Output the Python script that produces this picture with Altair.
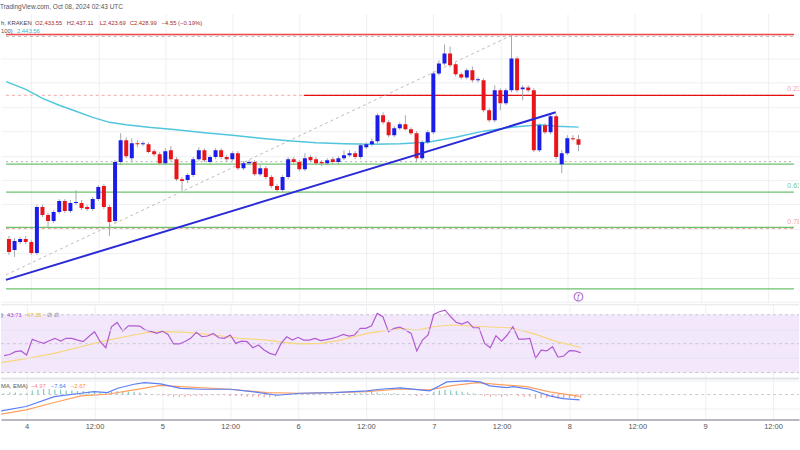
import altair as alt
import pandas as pd

# ---------------- data ----------------
# hourly candles; hour offsets relative to 2024-10-04 00:00 UTC
first_hour = -4
opens = [2351.6, 2342.6, 2349.2, 2351.6, 2349.2, 2340.2, 2377.9, 2371.3, 2366.4, 2373.8,
         2382.8, 2374.6, 2381.1, 2381.1, 2377.9, 2376.2, 2384.4, 2395.1, 2377.9, 2366.4,
         2414.8, 2432.8, 2418.0, 2430.3, 2429.5, 2429.5, 2423.8, 2421.3, 2413.9, 2424.6,
         2417.2, 2400.8, 2400.0, 2404.1, 2417.2, 2424.6, 2414.8, 2418.9, 2424.6, 2418.9,
         2417.2, 2422.1, 2409.8, 2413.9, 2414.8, 2404.9, 2409.8, 2402.5, 2395.1, 2391.8,
         2402.5, 2417.2, 2414.8, 2409.0, 2418.9, 2417.2, 2414.8, 2413.9, 2417.2, 2414.8,
         2418.0, 2420.5, 2422.1, 2418.9, 2427.0, 2429.5, 2432.0, 2453.3, 2447.5, 2436.9,
         2442.6, 2445.9, 2441.8, 2438.5, 2418.0, 2431.1, 2439.3, 2487.7, 2495.9, 2504.1,
         2495.1, 2486.9, 2484.4, 2490.2, 2482.0, 2482.0, 2457.4, 2449.2, 2473.8, 2463.1,
         2473.8, 2500.0, 2474.6, 2476.2, 2473.8, 2424.6, 2445.1, 2439.3, 2452.5, 2413.1,
         2422.1, 2434.4, 2433.55]
highs = [2354.1, 2352.5, 2353.3, 2354.0, 2350.8, 2379.5, 2379.5, 2373.0, 2375.4, 2384.4,
         2384.4, 2383.6, 2391.8, 2383.6, 2379.5, 2386.1, 2395.9, 2396.7, 2379.5, 2416.4,
         2438.5, 2435.2, 2434.4, 2432.8, 2432.0, 2431.1, 2425.4, 2423.0, 2426.2, 2427.9,
         2418.9, 2402.5, 2405.7, 2418.9, 2427.0, 2426.2, 2420.5, 2426.2, 2426.2, 2420.5,
         2423.8, 2423.8, 2415.6, 2416.4, 2416.4, 2412.3, 2411.5, 2404.1, 2396.7, 2404.1,
         2418.9, 2418.9, 2416.4, 2422.1, 2420.5, 2418.9, 2416.4, 2418.0, 2418.9, 2419.7,
         2424.6, 2424.6, 2423.8, 2430.3, 2431.1, 2434.4, 2454.9, 2455.7, 2449.2, 2444.3,
         2447.5, 2453.3, 2443.4, 2440.2, 2432.8, 2441.0, 2489.3, 2498.4, 2511.5, 2509.8,
         2496.7, 2488.5, 2491.8, 2493.4, 2484.4, 2483.6, 2459.0, 2477.9, 2475.4, 2475.4,
         2519.6, 2501.6, 2477.9, 2477.9, 2475.4, 2446.7, 2446.7, 2454.1, 2454.1, 2424.6,
         2436.9, 2436.9, 2437.11]
lows = [2338.5, 2336.9, 2347.5, 2347.5, 2338.5, 2338.5, 2369.7, 2361.5, 2364.8, 2372.1,
        2373.0, 2373.0, 2379.5, 2375.4, 2374.6, 2374.6, 2382.8, 2376.2, 2354.1, 2364.8,
        2413.1, 2418.0, 2414.8, 2427.0, 2427.9, 2422.1, 2419.7, 2412.3, 2412.3, 2415.6,
        2399.2, 2391.0, 2397.5, 2402.5, 2415.6, 2414.8, 2413.1, 2417.2, 2417.2, 2415.6,
        2415.6, 2408.2, 2408.2, 2412.3, 2403.3, 2403.3, 2400.8, 2393.4, 2390.2, 2390.2,
        2400.8, 2413.1, 2407.4, 2407.4, 2414.8, 2412.3, 2411.5, 2412.3, 2413.1, 2413.1,
        2416.4, 2418.9, 2417.2, 2417.2, 2425.4, 2427.9, 2430.3, 2445.9, 2435.2, 2435.2,
        2441.0, 2441.0, 2436.9, 2414.8, 2416.4, 2429.5, 2437.7, 2486.1, 2494.3, 2492.6,
        2485.2, 2482.8, 2482.8, 2480.3, 2480.3, 2455.7, 2447.5, 2447.5, 2457.4, 2461.5,
        2472.1, 2472.1, 2465.6, 2472.1, 2423.0, 2423.0, 2437.7, 2437.7, 2417.2, 2405.7,
        2420.5, 2432.0, 2423.69]
closes = [2341.0, 2350.0, 2351.6, 2349.2, 2340.2, 2377.9, 2371.3, 2366.4, 2373.8, 2382.8,
          2374.6, 2381.1, 2382.0, 2377.0, 2376.2, 2384.4, 2394.3, 2377.9, 2365.6, 2414.8,
          2432.8, 2419.7, 2430.3, 2429.5, 2430.3, 2423.0, 2421.3, 2413.9, 2423.8, 2417.2,
          2400.8, 2399.2, 2404.1, 2417.2, 2424.6, 2416.4, 2418.9, 2424.6, 2418.9, 2417.2,
          2422.1, 2409.8, 2413.9, 2414.8, 2404.9, 2409.8, 2402.5, 2395.1, 2391.8, 2402.5,
          2417.2, 2414.8, 2409.0, 2418.0, 2416.4, 2413.9, 2413.9, 2416.4, 2414.8, 2418.0,
          2420.5, 2422.1, 2418.9, 2428.7, 2429.5, 2432.0, 2453.3, 2447.5, 2436.9, 2442.6,
          2445.9, 2441.8, 2438.5, 2418.0, 2431.1, 2439.3, 2487.7, 2495.9, 2504.1, 2494.3,
          2486.9, 2484.4, 2490.2, 2482.0, 2482.8, 2457.4, 2449.2, 2473.8, 2463.1, 2473.8,
          2500.0, 2473.8, 2476.2, 2473.8, 2424.6, 2445.1, 2439.3, 2452.5, 2418.9, 2422.1,
          2434.4, 2433.6, 2428.99]

sma_hours = [-4.5, -1, 2, 5, 8, 11, 14, 17, 21, 26, 31, 36, 41, 46, 51, 56, 61, 66, 71, 76, 81, 86, 91, 94, 98]
sma_vals = [2481.0, 2474.6, 2467.2, 2461.5, 2456.6, 2451.6, 2447.5, 2445.5, 2443.4, 2441.4,
            2438.9, 2436.9, 2434.4, 2432.4, 2430.7, 2429.9, 2429.5, 2429.9, 2431.1, 2435.2,
            2440.2, 2443.4, 2445.5, 2444.3, 2443.56]

rsi_vals = [41.7, 42.5, 44.5, 45.0, 42.2, 53.0, 51.5, 50.2, 52.0, 53.7,
            51.8, 53.7, 53.7, 52.5, 51.4, 55.0, 58.3, 51.4, 47.2, 61.7,
            64.7, 58.7, 62.4, 62.3, 62.2, 59.4, 58.5, 57.1, 58.7, 56.4,
            49.8, 49.8, 51.5, 53.7, 57.8, 54.8, 55.3, 57.1, 54.1, 53.7,
            56.0, 50.2, 51.8, 51.4, 47.2, 49.1, 45.6, 43.3, 42.2, 50.2,
            54.8, 52.5, 54.4, 52.5, 52.5, 53.7, 52.1, 52.8, 53.7, 54.8,
            56.4, 55.3, 56.0, 60.6, 60.6, 62.4, 70.9, 68.6, 58.3, 60.6,
            61.5, 59.4, 57.1, 45.0, 52.5, 56.0, 70.2, 72.1, 73.2, 68.6,
            64.7, 63.6, 65.2, 61.0, 61.0, 50.2, 47.2, 55.5, 51.8, 56.0,
            61.7, 53.2, 53.2, 53.7, 39.9, 45.6, 45.0, 47.9, 40.6, 41.5,
            45.2, 45.0, 43.71]
rsima_hours = [-4.5, 0.2, 4.9, 9.6, 14.3, 19, 21.4, 24.9, 28.4, 33.1, 37.8, 42.5, 45.5, 48.4,
               52, 55.5, 60.2, 66, 69, 72, 75, 81, 85.5, 89.5, 93.8, 98]
rsima_vals = [36.9, 39.9, 43.3, 47.9, 52.5, 56.0, 57.8, 58.3, 57.8, 56.0, 53.7, 52.5, 50.9, 49.8,
              50.2, 52.5, 57.1, 60.6, 59.4, 61.7, 62.9, 61.7, 61.0, 57.1, 51.4, 47.35]

macd_hours = [-4.5, -0.1, 4.9, 9.6, 11.9, 14.3, 16.1, 19.0, 20.8, 23.7, 27.2, 30.8, 36.0, 40.2,
              44.3, 48.4, 54.3, 60.2, 62.5, 66.1, 71.3, 74.3, 77.8, 80.2, 81.9, 84.9, 86.1,
              89.0, 92.5, 94.9, 97.8]
macd_vals = [-23.3, -17.1, -2.9, 1.9, 4.3, 2.9, 9.0, 14.8, 17.1, 15.2, 9.0, 7.6, 7.6, 3.8,
             -1.0, 1.9, 2.9, 5.2, 7.6, 9.5, 5.2, 18.1, 19.5, 18.1, 12.4, 10.0, 11.4,
             7.6, -1.9, -5.7, -7.64]
signal_hours = [-4.5, -0.1, 4.9, 9.6, 14.3, 19.0, 23.7, 27.2, 36.0, 42.5, 48.4, 54.3, 60.2,
                66.1, 71.3, 74.9, 79.6, 83.7, 88.4, 92.5, 97.8]
signal_vals = [-28.0, -21.9, -11.4, -1.9, 0.5, 6.7, 13.3, 11.4, 7.6, 2.9, 1.9, 2.9, 4.3,
               8.0, 6.7, 12.4, 17.1, 14.3, 11.4, 3.8, -2.67]
hist_vals = [2, 3, 3, 2, 2,
             6, 7, 8, 8, 7, 7, 6, 6, 5, 5, 4, 4, 3, 3, 4,
             5, 5, 4, 4, 3, 2, 1, 0, -1, -2, -3,
             -3, -3, -2, -2, -2, -1, -1, -1, -1, -2, -2, -2, -3, -3, -3, -4, -4, -3,
             -1, 0, 1, 1, 1, 1, 1, 0, 0, 1, 1, 1, 1, 2, 2, 2, 4, 3, 2, 2, 2, 1, 0, -1,
             -2, -1, 0, 4, 6, 7, 6, 5, 4, 3, 2, 1, -2, -3, -2, -3, -2, 0, -2, -3,
             -3, -6, -5, -5, -4, -6, -6, -5, -5, -4.97]

# drawn levels / tools (prices)
top_level = 2519.7
fib_236 = 2469.7
fib_236_start = 48.8
support_dotted = 2415.2
green_levels = [2413.1, 2390.2, 2361.2, 2310.7]
pink_dashed_level = 2360.4
trend_hours = [-4.535, 93.93]
trend_prices = [2318.0, 2455.7]
fibdiag_hours = [-4.535, 86.0]
fibdiag_prices = [2322.1, 2518.9]
fib_labels = ["0.236", "0.618", "0.786"]
fib_label_prices = [2472.0, 2392.5, 2363.5]
fib_label_colors = ["#f3a3a3", "#6fc79a", "#f3a3a3"]

day_ticks = [0, 12, 24, 36, 48, 60, 72, 84, 96, 108, 120, 132]
X0, X1 = -4.535, 136.6

# ---------------- tables ----------------
n = len(opens)
hrs = [first_hour + k for k in range(n)]
candles = pd.DataFrame({"h": hrs, "o": opens, "hi": highs, "lo": lows, "c": closes})
candles["col"] = ["#1c1ce8" if c >= o else "#e8161b" for o, c in zip(opens, closes)]
sma = pd.DataFrame({"h": sma_hours, "p": sma_vals})
rsi = pd.DataFrame({"h": hrs, "r": rsi_vals})
rsima = pd.DataFrame({"h": rsima_hours, "r": rsima_vals})
macd = pd.DataFrame({"h": macd_hours, "v": macd_vals})
sig = pd.DataFrame({"h": signal_hours, "v": signal_vals})
hist = pd.DataFrame({"h": hrs, "v": hist_vals})
hist["z"] = 0
hist["col"] = ["#7fcbbf" if v >= 0 else "#f39a9a" for v in hist_vals]

FONT = "Liberation Sans"
xs = alt.Scale(domain=[X0, X1], nice=False, zero=False)
grid_col = "#eef0f3"


def xax(labels=False):
    if labels:
        return alt.Axis(values=day_ticks, grid=True, gridColor=grid_col, ticks=False,
                        domain=True, domainColor="#9ea2aa", domainWidth=1.5,
                        labelFont=FONT, labelFontSize=7.5, labelColor="#555",
                        labelPadding=3, title=None,
                        labelExpr="datum.value % 24 == 0 ? toString(4 + datum.value / 24) : '12:00'")
    return alt.Axis(values=day_ticks, grid=True, gridColor=grid_col, labels=False,
                    ticks=False, domain=False, title=None)


def yax(vals, color=grid_col, z=0):
    return alt.Axis(values=vals, grid=True, gridColor=color, labels=False, ticks=False,
                    domain=False, title=None, minExtent=0, zindex=z)


one = pd.DataFrame({"a": [0]})


def label(text, x, y, color, size=5.9):
    return alt.Chart(one).mark_text(text=text, x=x, y=y, align="left", baseline="middle",
                                    font=FONT, fontSize=size, color=color)


# ---------------- main price pane ----------------
py = alt.Scale(domain=[2299.2, 2536.9], nice=False, zero=False)
pvals = list(range(2300, 2521, 20))
X = alt.X("h:Q", scale=xs, axis=xax())
Y = lambda f: alt.Y(f"{f}:Q", scale=py, axis=yax(pvals))


def hline(price, color, width=1.2, dash=None, start=X0):
    d = pd.DataFrame({"h": [start], "h2": [X1], "p": [price]})
    kw = dict(color=color, strokeWidth=width)
    if dash:
        kw["strokeDash"] = dash
    return alt.Chart(d).mark_rule(**kw).encode(x=X, x2="h2:Q", y=Y("p"))


layers = []
layers.append(hline(top_level - 1.6, "#b9b9b9", 1, [3, 3]))
layers.append(hline(support_dotted, "#bdbdbd", 1.2, [2, 3]))
layers.append(hline(pink_dashed_level, "#f08c8c", 1, [3, 3]))
for g in green_levels:
    layers.append(hline(g, "#6cc26c", 1.2))
layers.append(hline(fib_236, "#f4a5a5", 1, [3, 3]))
layers.append(alt.Chart(pd.DataFrame({"h": [fib_236_start], "h2": [X1], "p": [fib_236]}))
              .mark_rule(color="#e31010", strokeWidth=1.3)
              .encode(x=X, x2="h2:Q", y=Y("p")))
layers.append(hline(top_level, "#f0474b", 1.6))

fibdiag = pd.DataFrame({"h": fibdiag_hours, "p": fibdiag_prices})
layers.append(alt.Chart(fibdiag).mark_line(color="#bdbdbd", strokeWidth=1, strokeDash=[3, 3], clip=True)
              .encode(x=X, y=Y("p")))
layers.append(alt.Chart(sma).mark_line(color="#4fc6de", strokeWidth=1.4, clip=True)
              .encode(x=X, y=Y("p")))
layers.append(alt.Chart(candles).mark_rule(color="#a5a8ad", strokeWidth=1, clip=True)
              .encode(x=X, y=Y("lo"), y2="hi:Q"))
layers.append(alt.Chart(candles).mark_bar(size=4, clip=True)
              .encode(x=X, y=Y("o"), y2="c:Q", color=alt.Color("col:N", scale=None)))
trend = pd.DataFrame({"h": trend_hours, "p": trend_prices})
layers.append(alt.Chart(trend).mark_line(color="#2a2ad8", strokeWidth=2, clip=True)
              .encode(x=X, y=Y("p")))
fl = pd.DataFrame({"h": [135.4] * 3, "p": fib_label_prices, "t": fib_labels, "col": fib_label_colors})
layers.append(alt.Chart(fl).mark_text(align="left", baseline="bottom", font=FONT, fontSize=7, clip=True)
              .encode(x=X, y=Y("p"), text="t:N", color=alt.Color("col:N", scale=None)))
ev = pd.DataFrame({"h": [98], "p": [2304.1], "t": ["ƒ"]})
layers.append(alt.Chart(ev).mark_point(shape="circle", size=75, filled=False, color="#9b3fbf", strokeWidth=1.2)
              .encode(x=X, y=Y("p")))
layers.append(alt.Chart(ev).mark_text(font=FONT, fontSize=7, color="#9b3fbf", baseline="middle")
              .encode(x=X, y=Y("p"), text="t:N"))

hdr_red = "#a52a2a"
layers += [
    label("h, KRAKEN", 0, 10, "#444"),
    label("O2,433.55", 34, 10, hdr_red),
    label("H2,437.11", 66, 10, hdr_red),
    label("L2,423.69", 99, 10, hdr_red),
    label("C2,428.99", 129, 10, hdr_red),
    label("\u22124.55 (\u22120.19%)", 161, 10, hdr_red),
    label("100)", 0, 18, "#555"),
    label("2,443.56", 16, 18, "#37b6d2"),
]
main = alt.layer(*layers).properties(width=800, height=290)

# ---------------- RSI pane ----------------
ry = alt.Scale(domain=[26.55, 76.9], nice=False, zero=False)
RX = alt.X("h:Q", scale=xs, axis=xax())
RY = lambda f: alt.Y(f"{f}:Q", scale=ry, axis=yax([40, 60], "#e7e3ee", 1))
band = pd.DataFrame({"h": [X0], "h2": [X1], "r": [30], "r2": [70]})
rsi_layers = [
    alt.Chart(band).mark_rect(color="#f3e7fc").encode(x=RX, x2="h2:Q", y=RY("r"), y2="r2:Q"),
]
for lvl in [70, 50, 30]:
    rsi_layers.append(alt.Chart(pd.DataFrame({"h": [X0], "h2": [X1], "r": [lvl]}))
                      .mark_rule(color="#c9c6d0", strokeWidth=1, strokeDash=[3, 3])
                      .encode(x=RX, x2="h2:Q", y=RY("r")))
rsi_layers += [
    alt.Chart(rsima).mark_line(color="#f6d77c", strokeWidth=1.2, clip=True).encode(x=RX, y=RY("r")),
    alt.Chart(rsi).mark_line(color="#b05bd0", strokeWidth=1.2, clip=True).encode(x=RX, y=RY("r")),
    alt.Chart(one).mark_rule(color="#e3e4e8", strokeWidth=1).encode(x=alt.value(0), x2=alt.value(800), y=alt.value(0)),
    label(")", 0, 10, "#555"),
    label("43.71", 6, 10, "#a64fc8"),
    label("47.35", 26, 10, "#e3bf3a"),
    label("\u2205  \u2205", 46, 10, "#666"),
]
rsi_panel = alt.layer(*rsi_layers).properties(width=800, height=73)

# ---------------- MACD pane ----------------
my = alt.Scale(domain=[-35.7, 22.9], nice=False, zero=False)
MX = alt.X("h:Q", scale=xs, axis=xax(labels=True))
MY = lambda f: alt.Y(f"{f}:Q", scale=my, axis=yax([-20, 20]))
macd_layers = [
    alt.Chart(pd.DataFrame({"h": [X0], "h2": [X1], "v": [0]}))
    .mark_rule(color="#c9c9cf", strokeWidth=1, strokeDash=[3, 3]).encode(x=MX, x2="h2:Q", y=MY("v")),
    alt.Chart(hist).mark_rule(strokeWidth=1.2, clip=True)
    .encode(x=MX, y=MY("z"), y2="v:Q", color=alt.Color("col:N", scale=None)),
    alt.Chart(sig).mark_line(color="#ffa060", strokeWidth=1.2, clip=True).encode(x=MX, y=MY("v")),
    alt.Chart(macd).mark_line(color="#5b7ff5", strokeWidth=1.2, clip=True).encode(x=MX, y=MY("v")),
    alt.Chart(one).mark_rule(color="#e2e3e7", strokeWidth=2).encode(x=alt.value(0), x2=alt.value(800), y=alt.value(0)),
    label("MA, EMA)", 0, 7, "#555"),
    label("\u22124.97", 30, 7, "#f28b8b"),
    label("\u22127.64", 50, 7, "#4f78f0"),
    label("\u22122.67", 70, 7, "#ff8a3d"),
]
macd_panel = alt.layer(*macd_layers).properties(width=800, height=41)

chart = (
    alt.vconcat(main, rsi_panel, macd_panel, spacing=0)
    .resolve_scale(y="independent")
    .properties(
        title=alt.TitleParams("TradingView.com, Oct 08, 2024 02:43 UTC", anchor="start",
                              fontSize=6.5, font=FONT, fontWeight="normal", color="#555", offset=3.5),
        padding={"left": 0, "right": 0, "top": 3, "bottom": 0},
    )
    .configure_view(stroke=None)
)

chart.save("out.html", embed_options={"renderer": "svg", "actions": False})
